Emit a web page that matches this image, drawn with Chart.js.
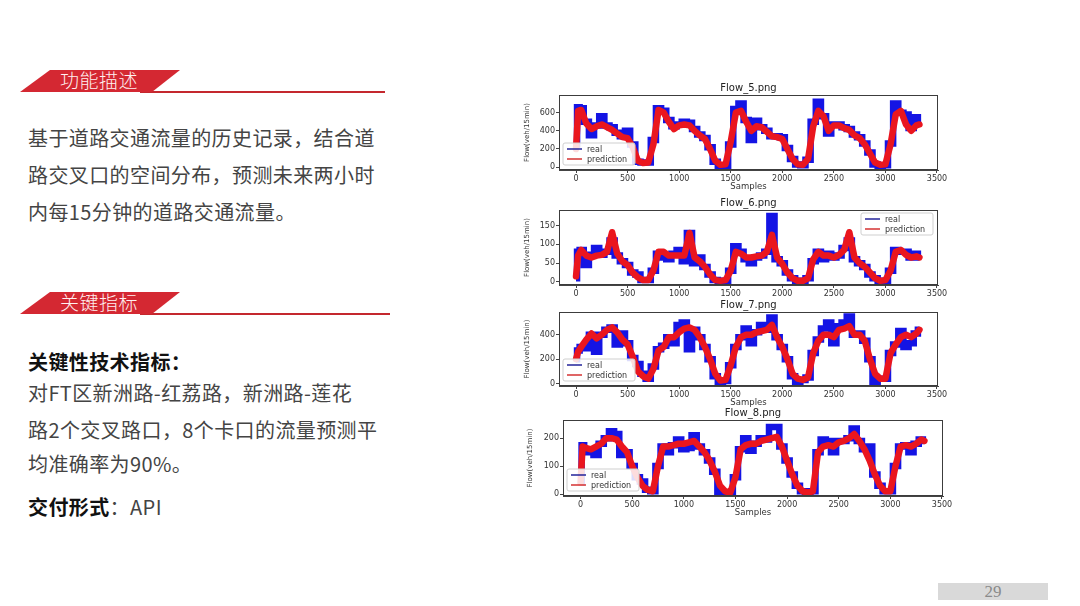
<!DOCTYPE html>
<html>
<head>
<meta charset="utf-8">
<script src="https://cdn.jsdelivr.net/npm/chart.js@4.4.1/dist/chart.umd.min.js"></script>
<style>
  body { margin: 0; background: #fff; }
  #slide { position: relative; width: 1080px; height: 606px; overflow: hidden; font-family: "Noto Sans CJK SC", sans-serif; }
  .tag { position: absolute; left: 20px; width: 160px; height: 22px; background: #d42832;
         clip-path: polygon(30px 0, 160px 0, 132px 100%, 0 100%); }
  .tag-text { position: absolute; left: 60px; font-size: 19px; font-weight: 300; color: #fff0f0; line-height: 22px; letter-spacing: 0.5px; }
  .rule { position: absolute; left: 140px; height: 1.5px; background: #c4282e; }
  .line { position: absolute; left: 28px; font-size: 20px; line-height: 30px; color: #444; white-space: nowrap; letter-spacing: 0.4px; }
  .bold { font-weight: 700; color: #111; }
  canvas { position: absolute; }
  #page { position: absolute; left: 938px; top: 583px; width: 110px; height: 17px; background: #d9d9d9;
          font-family: "Liberation Serif", serif; font-size: 17px; line-height: 17px; color: #8a8a8a; text-align: center; }
</style>
</head>
<body>
<div id="slide">
  <div class="rule" style="top:91px; width:245px;"></div>
  <div class="tag" style="top:70px;"></div>
  <div class="tag-text" style="top:69px;">功能描述</div>

  <div class="line" style="top:123px;">基于道路交通流量的历史记录，结合道</div>
  <div class="line" style="top:160px;">路交叉口的空间分布，预测未来两小时</div>
  <div class="line" style="top:197px;">内每15分钟的道路交通流量。</div>

  <div class="rule" style="top:313px; width:250px;"></div>
  <div class="tag" style="top:292px;"></div>
  <div class="tag-text" style="top:291px;">关键指标</div>

  <div class="line bold" style="top:347px;">关键性技术指标：</div>
  <div class="line" style="top:378px;">对FT区新洲路-红荔路，新洲路-莲花</div>
  <div class="line" style="top:415px;">路2个交叉路口，8个卡口的流量预测平</div>
  <div class="line" style="top:449px;">均准确率为90%。</div>
  <div class="line" style="top:492px;"><span class="bold">交付形式</span>：API</div>

  <canvas id="flow5" width="440" height="115" style="left:510px; top:78px;"></canvas>
  <canvas id="flow6" width="440" height="106" style="left:510px; top:193px;"></canvas>
  <canvas id="flow7" width="440" height="114" style="left:510px; top:295px;"></canvas>
  <canvas id="flow8" width="445" height="116" style="left:510px; top:403px;"></canvas>

  <div id="page">29</div>
</div>

<script>
// sample positions shared by every series
const samples = [0, 20, 50, 100, 150, 200, 250, 300, 350, 400,
  450, 500, 550, 600, 650, 700, 750, 800, 850, 900,
  950, 1000, 1050, 1100, 1150, 1200, 1250, 1300, 1350, 1400,
  1450, 1500, 1550, 1600, 1650, 1700, 1750, 1800, 1850, 1900,
  1950, 2000, 2050, 2100, 2150, 2200, 2250, 2300, 2350, 2400,
  2450, 2500, 2550, 2600, 2650, 2700, 2750, 2800, 2850, 2900,
  2950, 3000, 3050, 3100, 3150, 3200, 3250, 3300, 3330];

const flow5Real = [250, 660, 650, 500, 350, 460, 560, 460, 440, 380,
  340, 400, 250, 60, 50, 50, 300, 650, 620, 520,
  450, 470, 500, 490, 420, 360, 320, 220, 60, 10,
  15, 250, 640, 700, 520, 300, 510, 440, 400, 340,
  340, 330, 210, 90, 30, 20, 80, 500, 720, 560,
  370, 470, 470, 440, 420, 360, 330, 260, 160, 30,
  10, 20, 260, 700, 600, 580, 430, 550, 480];
const flow5Pred = [200, 620, 630, 480, 420, 450, 470, 440, 410, 370,
  330, 320, 220, 70, 45, 50, 250, 630, 600, 500,
  420, 460, 470, 460, 400, 350, 310, 200, 70, 25,
  30, 280, 600, 620, 500, 400, 450, 440, 390, 340,
  330, 310, 200, 90, 30, 25, 90, 450, 620, 560,
  400, 460, 460, 430, 410, 350, 320, 250, 150, 50,
  25, 30, 250, 580, 620, 470, 400, 460, 470];

const flow6Real = [10, 80, 85, 45, 72, 90, 72, 80, 110, 70,
  55, 45, 25, 20, 5, 5, 30, 75, 65, 60,
  75, 85, 55, 130, 50, 65, 40, 20, 5, 3,
  3, 30, 95, 80, 60, 50, 65, 70, 80, 175,
  60, 50, 25, 10, 3, 3, 10, 55, 80, 60,
  75, 65, 70, 90, 110, 60, 50, 40, 20, 10,
  3, 3, 30, 85, 80, 80, 65, 75, 65];
const flow6Pred = [15, 70, 85, 70, 65, 70, 72, 80, 132, 75,
  55, 45, 25, 12, 5, 5, 30, 80, 80, 70,
  70, 70, 70, 130, 65, 55, 40, 20, 5, 3,
  5, 30, 80, 75, 65, 65, 68, 70, 80, 125,
  65, 48, 25, 10, 3, 3, 10, 60, 80, 70,
  70, 65, 72, 85, 132, 65, 50, 40, 25, 10,
  3, 5, 30, 80, 85, 72, 65, 68, 65];

const flow7Real = [200, 270, 300, 290, 400, 260, 400, 440, 460, 320,
  410, 330, 210, 160, 80, 40, 140, 280, 310, 380,
  330, 480, 500, 280, 440, 380, 300, 200, 60, 10,
  20, 150, 300, 380, 450, 330, 420, 480, 440, 540,
  380, 300, 200, 60, 10, 30, 50, 250, 360, 450,
  500, 330, 470, 500, 550, 400, 410, 350, 200, 10,
  40, 40, 250, 320, 430, 300, 330, 410, 440];
const flow7Pred = [200, 260, 300, 360, 410, 370, 400, 440, 460, 420,
  360, 320, 220, 100, 60, 40, 120, 270, 300, 380,
  380, 420, 450, 460, 440, 380, 300, 200, 80, 25,
  30, 150, 300, 380, 400, 400, 420, 430, 440, 480,
  380, 300, 200, 80, 40, 30, 50, 250, 350, 400,
  400, 380, 440, 450, 470, 400, 400, 350, 200, 80,
  40, 40, 250, 320, 380, 400, 380, 410, 440];

const flow8Real = [40, 175, 150, 160, 140, 180, 200, 225, 215, 140,
  150, 100, 60, 45, 15, 10, 100, 170, 150, 175,
  195, 160, 165, 210, 170, 150, 120, 80, 5, 5,
  5, 60, 160, 200, 155, 180, 200, 195, 240, 240,
  170, 120, 70, 30, 10, 5, 10, 150, 195, 190,
  150, 190, 190, 200, 235, 190, 160, 170, 70, 30,
  10, 10, 100, 170, 175, 150, 180, 195, 190];
const flow8Pred = [40, 170, 165, 160, 170, 180, 200, 200, 195, 170,
  150, 100, 60, 30, 15, 10, 100, 170, 170, 175,
  180, 180, 185, 190, 170, 150, 120, 80, 30, 10,
  5, 60, 160, 175, 180, 180, 190, 195, 200, 205,
  170, 120, 70, 30, 10, 5, 10, 150, 170, 175,
  170, 185, 190, 200, 215, 190, 160, 120, 70, 30,
  10, 10, 100, 170, 175, 170, 180, 195, 190];

const xTickValues = [0, 500, 1000, 1500, 2000, 2500, 3000, 3500];
const flow5YTicks = [0, 200, 400, 600];
const flow6YTicks = [0, 50, 100, 150];
const flow7YTicks = [0, 200, 400];
const flow8YTicks = [0, 100, 200];
const legendLabels = ['real', 'prediction'];

const REAL = 'rgb(20,20,228)';
const PRED = 'rgb(234,22,30)';
const FONT = 'DejaVu Sans';

// frame, title and legend drawn on top of each plot
function overlay(title, corner) {
  return {
    id: 'overlay',
    afterDraw(chart) {
      const { ctx, chartArea: a } = chart;
      ctx.save();
      ctx.strokeStyle = '#3c3c3c';
      ctx.lineWidth = 1;
      ctx.strokeRect(a.left + 0.5, a.top + 0.5, a.right - a.left - 1, a.bottom - a.top - 1);

      ctx.fillStyle = '#222';
      ctx.font = '10px "' + FONT + '"';
      ctx.textAlign = 'center';
      ctx.textBaseline = 'middle';
      ctx.fillText(title, (a.left + a.right) / 2, a.top - 7);

      const w = 72, h = 22;
      let x = a.left + 4, y = a.bottom - 5 - h;
      if (corner === 'ur') { x = a.right - 5 - w; y = a.top + 3; }
      ctx.fillStyle = 'rgba(255,255,255,0.85)';
      ctx.strokeStyle = '#cfcfcf';
      ctx.beginPath();
      ctx.roundRect(x, y, w, h, 2);
      ctx.fill();
      ctx.stroke();

      const colors = ['#23239a', '#d43232'];
      ctx.font = '8px "' + FONT + '"';
      ctx.textAlign = 'left';
      legendLabels.forEach((lab, i) => {
        const ly = y + 6 + i * 10;
        ctx.strokeStyle = colors[i];
        ctx.lineWidth = 1.5;
        ctx.beginPath();
        ctx.moveTo(x + 4, ly);
        ctx.lineTo(x + 19, ly);
        ctx.stroke();
        ctx.fillStyle = '#333';
        ctx.fillText(lab, x + 24, ly + 0.5);
      });
      ctx.restore();
    }
  };
}

function flowChart(id, c) {
  const pts = arr => samples.map((s, i) => ({ x: s, y: arr[i] }));
  return new Chart(document.getElementById(id), {
    type: 'line',
    data: {
      datasets: [
        { label: 'real', data: pts(c.real), borderColor: REAL, borderWidth: 6.5,
          stepped: 'middle', pointRadius: 0, order: 2 },
        { label: 'prediction', data: pts(c.pred), borderColor: PRED, borderWidth: 6.5,
          pointRadius: 0, borderJoinStyle: 'round', borderCapStyle: 'round', order: 1 }
      ]
    },
    options: {
      responsive: false,
      animation: false,
      layout: { padding: { left: c.padLeft, right: 12, top: 17, bottom: 0 } },
      plugins: { legend: { display: false }, tooltip: { enabled: false } },
      scales: {
        x: {
          type: 'linear', min: c.xMin, max: 3510,
          afterBuildTicks: s => { s.ticks = xTickValues.map(v => ({ value: v })); },
          afterFit: s => { s.height = c.xHeight; },
          ticks: { font: { family: FONT, size: 8 }, color: '#333', padding: 1, maxRotation: 0,
                   autoSkip: false, callback: v => String(v) },
          grid: { drawOnChartArea: false, tickLength: 3, color: '#444' },
          border: { color: '#444' },
          title: { display: c.samples, text: 'Samples', color: '#333',
                   font: { family: FONT, size: 8.5 }, padding: { top: 1, bottom: 1 } }
        },
        y: {
          min: c.yMin, max: c.yMax,
          afterBuildTicks: s => { s.ticks = c.yTicks.map(v => ({ value: v })); },
          afterFit: s => { s.width = c.yWidth; },
          ticks: { font: { family: FONT, size: 8 }, color: '#333', padding: 1, callback: v => String(v) },
          grid: { drawOnChartArea: false, tickLength: 3, color: '#444' },
          border: { color: '#444' },
          title: { display: true, text: 'Flow(veh/15min)', color: '#333',
                   font: { family: FONT, size: 7 }, padding: { top: 2, bottom: 0 } }
        }
      }
    },
    plugins: [overlay(c.title, c.corner)]
  });
}

flowChart('flow5', { title: 'Flow_5.png', real: flow5Real, pred: flow5Pred, yTicks: flow5YTicks,
  yMin: -32, yMax: 795, xMin: -165, padLeft: 11, yWidth: 38, xHeight: 23, samples: true, corner: 'll' });
flowChart('flow6', { title: 'Flow_6.png', real: flow6Real, pred: flow6Pred, yTicks: flow6YTicks,
  yMin: -8, yMax: 191, xMin: -165, padLeft: 11, yWidth: 38, xHeight: 14, samples: false, corner: 'ur' });
flowChart('flow7', { title: 'Flow_7.png', real: flow7Real, pred: flow7Pred, yTicks: flow7YTicks,
  yMin: -20, yMax: 586, xMin: -165, padLeft: 11, yWidth: 38, xHeight: 23, samples: true, corner: 'll' });
flowChart('flow8', { title: 'Flow_8.png', real: flow8Real, pred: flow8Pred, yTicks: flow8YTicks,
  yMin: -7, yMax: 265, xMin: -170, padLeft: 14, yWidth: 39, xHeight: 23, samples: true, corner: 'll' });
</script>
</body>
</html>
